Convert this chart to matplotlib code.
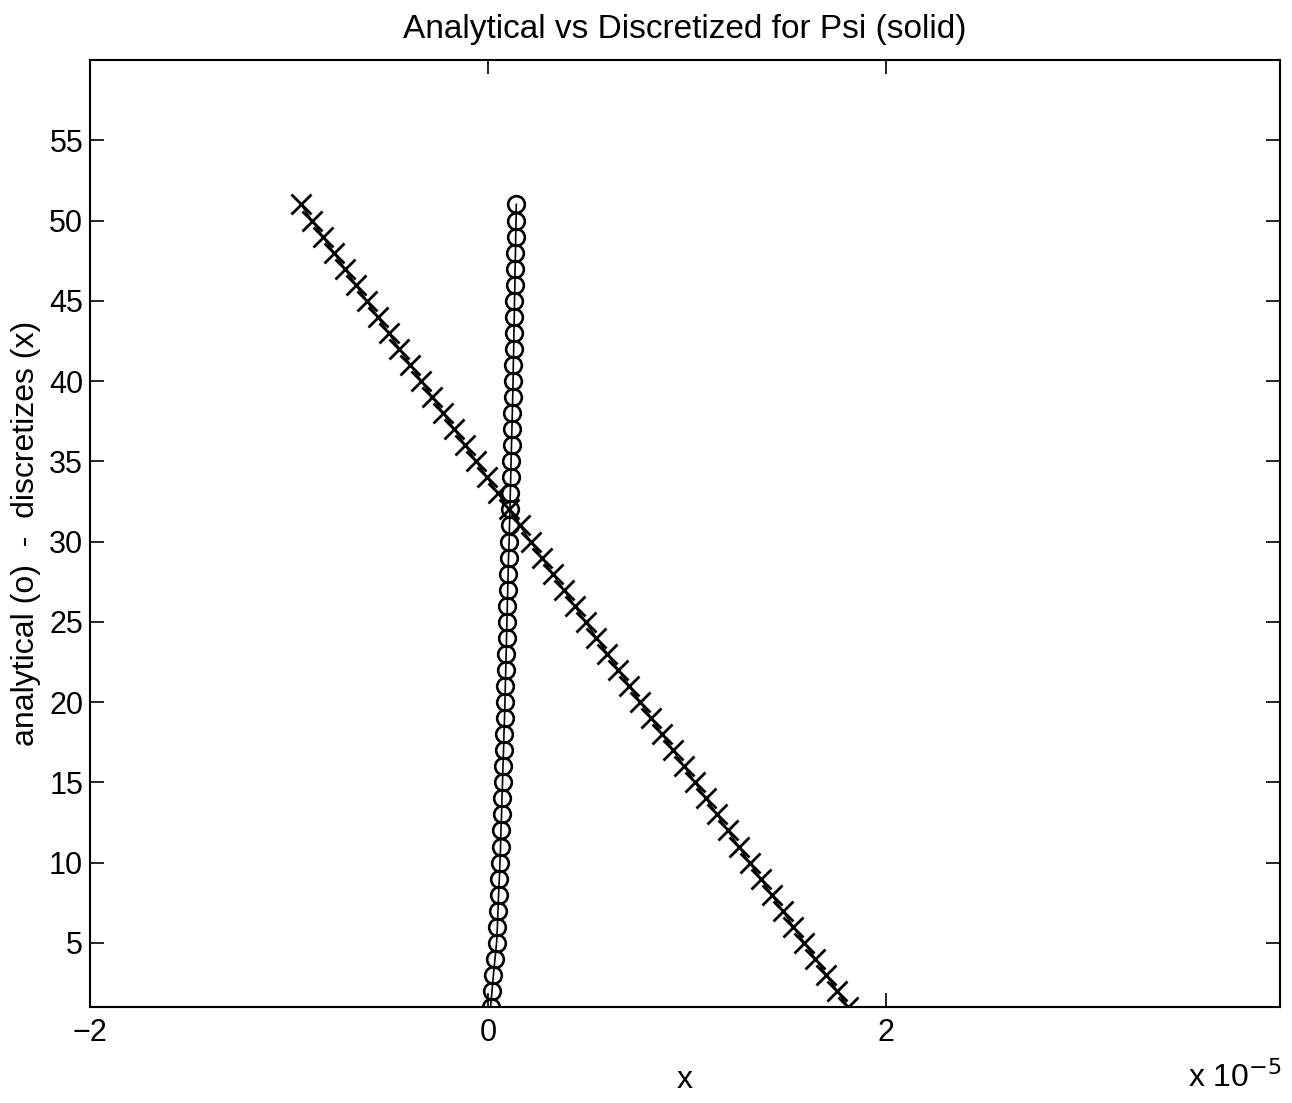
import numpy as np
import matplotlib.pyplot as plt

plt.rcParams['font.family'] = ['Liberation Sans', 'DejaVu Sans']

# grid index (y axis)
idx = list(range(1, 52))

# analytical values (o), units of 1e-5
analytical = [0.013, 0.020, 0.027, 0.035, 0.043, 0.047, 0.050, 0.053, 0.057, 0.060,
              0.063, 0.065, 0.068, 0.070, 0.073, 0.075, 0.078, 0.080, 0.083, 0.085,
              0.087, 0.089, 0.091, 0.093, 0.095, 0.097, 0.099, 0.101, 0.103, 0.106,
              0.108, 0.110, 0.112, 0.114, 0.116, 0.118, 0.120, 0.122, 0.124, 0.126,
              0.127, 0.129, 0.130, 0.132, 0.133, 0.135, 0.136, 0.138, 0.139, 0.141,
              0.142]

# discretized values (x), units of 1e-5
discretized = [1.81, 1.755, 1.70, 1.645, 1.59, 1.535, 1.48, 1.425, 1.37, 1.315,
               1.26, 1.205, 1.15, 1.095, 1.04, 0.985, 0.93, 0.875, 0.82, 0.765,
               0.71, 0.655, 0.60, 0.545, 0.49, 0.435, 0.38, 0.325, 0.27, 0.215,
               0.16, 0.105, 0.05, -0.005, -0.06, -0.115, -0.17, -0.225, -0.28, -0.335,
               -0.39, -0.445, -0.50, -0.555, -0.61, -0.665, -0.72, -0.775, -0.83, -0.885,
               -0.94]

xticks = [-2, 0, 2]
yticks = [5, 10, 15, 20, 25, 30, 35, 40, 45, 50, 55]

fig = plt.figure(figsize=(12.92, 11.03), dpi=100)
ax = fig.add_axes([0.0697, 0.087, 0.921, 0.8586])

ax.plot(analytical, idx, color='k', lw=1.2, marker='o', ms=12,
        mfc='none', mec='k', mew=1.9)
ax.plot(discretized, idx, color='k', lw=1.2, marker='x', ms=14.5, mew=2.0)

ax.set_xlim(-2, 3.98)
ax.set_ylim(1, 60)
ax.set_xticks(xticks)
ax.set_yticks(yticks)
ax.tick_params(direction='in', length=10, width=1.2, top=True, right=True,
               labelsize=22, pad=5)
ax.tick_params(axis='x', pad=8)
for s in ax.spines.values():
    s.set_linewidth(1.5)

ax.set_title('Analytical vs Discretized for Psi (solid)', fontsize=24, pad=16)
ax.set_xlabel('x', fontsize=23, labelpad=12)
ax.set_ylabel('analytical (o)  -  discretizes (x)', fontsize=23, labelpad=6)
fig.text(0.992, 0.008, r'x 10$^{-5}$', ha='right', va='bottom', fontsize=23)

fig.savefig('out.png', dpi=100)
